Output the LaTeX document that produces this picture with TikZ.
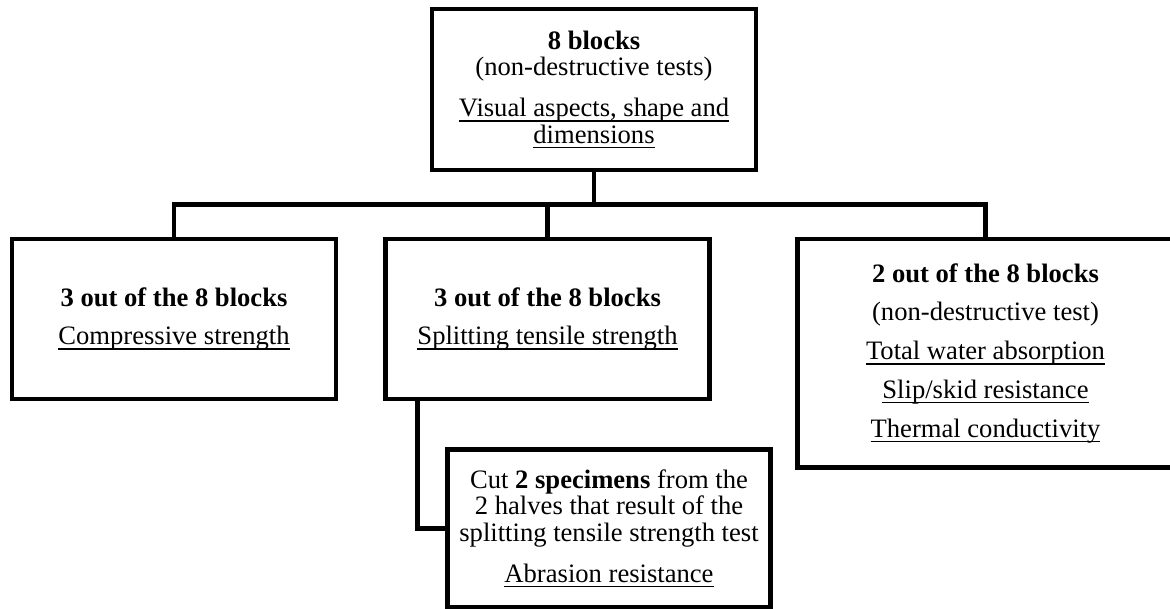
\documentclass[tikz,border=0pt]{standalone}
\usepackage{fontspec}
\setmainfont{Liberation Serif}
\newcommand{\undl}[1]{\leavevmode\setbox0\hbox{#1}\rlap{\vrule width\wd0 height-1.7pt depth2.4pt}\box0}

\begin{document}
\begin{tikzpicture}[x=0.5pt, y=-0.5pt,
    testbox/.style ={rectangle, draw, line width=2.25pt, align=center, inner sep=0pt,
      font=\fontsize{13.3}{13.4}\selectfont},
    link/.style ={line width=2.25pt}]
   \useasboundingbox (0,0) rectangle (1170,609);

   \node[testbox, minimum width=162pt, minimum height=80.5pt] (Blocks) at (594,89.5)
     {\textbf{8 blocks}\\(non-destructive tests)\\[7pt]\undl{Visual aspects, shape and}\\\undl{dimensions}};
   \node[testbox, minimum width=162pt, minimum height=80pt] (Compressive) at (174,319)
     {\textbf{3 out of the 8 blocks}\\[6pt]\undl{Compressive strength}};
   \node[testbox, minimum width=162pt, minimum height=80pt] (Splitting) at (547.5,319)
     {\textbf{3 out of the 8 blocks}\\[6pt]\undl{Splitting tensile strength}};
   \node[testbox, minimum width=188pt, minimum height=114.25pt] (Water) at (985.5,353.25)
     {\textbf{2 out of the 8 blocks}\\[6pt](non-destructive test)\\[6pt]\undl{Total water absorption}\\[6pt]\undl{Slip/skid resistance}\\[6pt]\undl{Thermal conductivity}};
   \node[testbox, minimum width=161.5pt, minimum height=78.75pt] (Abrasion) at (609,528.25)
     {Cut \textbf{2 specimens} from the\\2 halves that result of the\\splitting tensile strength test\\[7pt]\undl{Abrasion resistance}};

   \coordinate (Bus) at (594,204.5);

   \draw[link] (Blocks) to (Bus);
   \draw[link] (Bus) -| (Compressive);
   \draw[link] (Bus) -| (Splitting);
   \draw[link] (Bus) -| (Water);
   \draw[link] ([xshift=17pt]Splitting.south west) |- (Abrasion);
\end{tikzpicture}
\end{document}
